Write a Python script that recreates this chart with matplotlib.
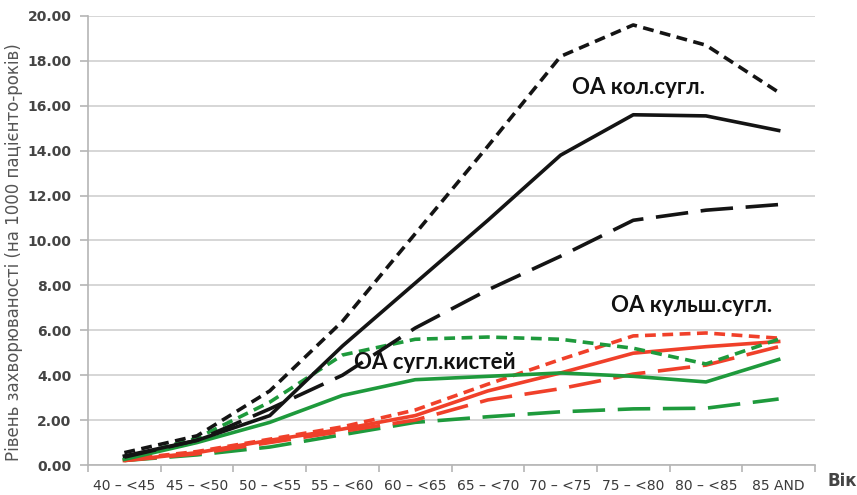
import numpy as np
import matplotlib.pyplot as plt
from matplotlib.ticker import FixedLocator

# age groups
ages = ['40 – <45', '45 – <50', '50 – <55', '55 – <60', '60 – <65',
        '65 – <70', '70 – <75', '75 – <80', '80 – <85', '85 AND']

# knee OA (black)
knee_a = [0.55, 1.3, 3.3, 6.4, 10.3, 14.2, 18.2, 19.6, 18.7, 16.6]
knee_b = [0.4, 1.1, 2.2, 5.3, 8.1, 10.9, 13.8, 15.6, 15.55, 14.9]
knee_c = [0.35, 1.1, 2.5, 4.0, 6.1, 7.8, 9.3, 10.9, 11.35, 11.6]

# hip OA (red)
hip_a = [0.25, 0.6, 1.15, 1.7, 2.45, 3.6, 4.7, 5.75, 5.88, 5.65]
hip_b = [0.2, 0.55, 1.1, 1.6, 2.2, 3.3, 4.1, 4.98, 5.27, 5.5]
hip_c = [0.2, 0.5, 1.0, 1.5, 2.0, 2.9, 3.4, 4.05, 4.45, 5.27]

# hand OA (green)
hand_a = [0.3, 1.2, 2.8, 4.9, 5.6, 5.7, 5.6, 5.2, 4.5, 5.6]
hand_b = [0.25, 1.0, 1.9, 3.1, 3.8, 3.95, 4.1, 3.95, 3.7, 4.7]
hand_c = [0.2, 0.45, 0.8, 1.35, 1.9, 2.15, 2.37, 2.5, 2.53, 2.94]

black = '#141414'
red = '#f0402a'
green = '#1e9a3c'
short = (0, (3.0, 1.8))
longd = (0, (9.0, 3.5))

fig = plt.figure(figsize=(8.57, 4.95), dpi=100)
ax = fig.add_axes([0.1027, 0.0606, 0.8483, 0.9071])

x = np.arange(len(ages))
lw = 2.6

ax.plot(x, hand_c, color=green, lw=lw, ls=longd)
ax.plot(x, hip_c, color=red, lw=lw, ls=longd)
ax.plot(x, hip_b, color=red, lw=lw, ls='-')
ax.plot(x, hip_a, color=red, lw=lw, ls=short)
ax.plot(x, hand_b, color=green, lw=lw, ls='-')
ax.plot(x, hand_a, color=green, lw=lw, ls=short)
ax.plot(x, knee_c, color=black, lw=lw, ls=longd)
ax.plot(x, knee_b, color=black, lw=lw, ls='-')
ax.plot(x, knee_a, color=black, lw=lw, ls=short)

ax.set_xlim(-0.5, 9.5)
ax.set_ylim(0, 20)
ax.set_yticks(np.arange(0, 20.1, 2))
ax.set_yticklabels(['%.2f' % v for v in np.arange(0, 20.1, 2)])
ax.set_xticks(x)
ax.set_xticklabels(ages)
ax.xaxis.set_minor_locator(FixedLocator(np.arange(-0.5, 10, 1)))

ax.grid(axis='y', color='#cfcfcf', lw=1.2)
ax.set_axisbelow(True)
for s in ['top', 'right']:
    ax.spines[s].set_visible(False)
for s in ['left', 'bottom']:
    ax.spines[s].set_color('#b5b5b5')
    ax.spines[s].set_linewidth(1.2)

ax.tick_params(axis='x', which='major', length=0, pad=10, labelcolor='#3a3a3a')
ax.tick_params(axis='x', which='minor', length=5, color='#b5b5b5', width=1.2)
ax.tick_params(axis='y', length=6, color='#b5b5b5', width=1.2, pad=6,
               labelsize=10, labelcolor='#444444')
for lab in ax.get_xticklabels():
    lab.set_family('Liberation Sans Narrow')
    lab.set_fontsize(10)
for lab in ax.get_yticklabels():
    lab.set_fontweight('bold')

ax.set_ylabel('Рівень захворюваності (на 1000 пацієнто-років)', fontsize=12,
              color='#555555')
ax.yaxis.set_label_coords(-0.09, 0.475)

tf = dict(family='Lato', fontweight='bold', fontsize=16, color='#111111')
ax.text(7.07, 16.8, 'ОА кол.сугл.', ha='center', va='center', **tf)
ax.text(7.8, 7.1, 'ОА кульш.сугл.', ha='center', va='center', **tf)
ax.text(4.27, 4.55, 'ОА сугл.кистей', ha='center', va='center', **tf)

fig.text(0.965, 0.028, 'Вік', fontsize=12, fontweight='bold', color='#444444',
         ha='left', va='center')

fig.savefig('out.png', dpi=100)
